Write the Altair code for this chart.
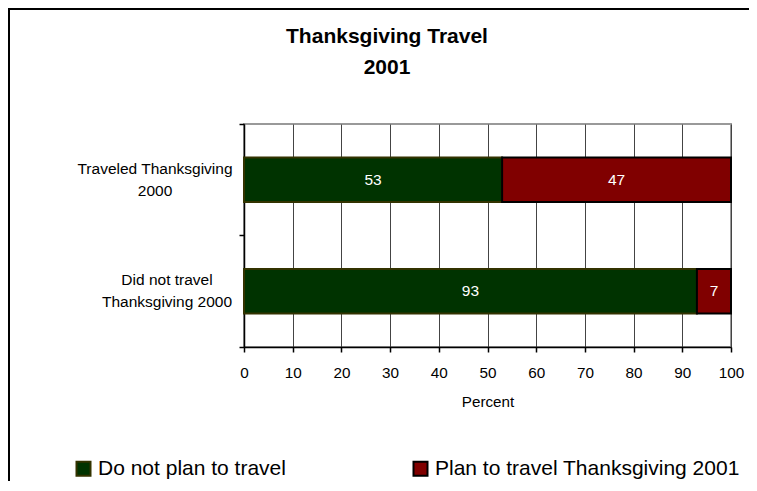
import altair as alt
import pandas as pd

categories = ["Traveled Thanksgiving\n2000", "Did not travel\nThanksgiving 2000"]
series = ["Do not plan to travel", "Plan to travel Thanksgiving 2001"]
do_not_plan = [53, 93]
plan_to_travel = [47, 7]
x_ticks = [0, 10, 20, 30, 40, 50, 60, 70, 80, 90, 100]
title_lines = ["Thanksgiving Travel", "2001"]

rows = []
for i, c in enumerate(categories):
    rows.append({"category": c, "series": series[0], "order": 0, "value": do_not_plan[i]})
    rows.append({"category": c, "series": series[1], "order": 1, "value": plan_to_travel[i]})
df = pd.DataFrame(rows)

FONT = "Liberation Sans"

legend = alt.Legend(
    title=None, orient="none", legendX=-171, legendY=334, direction="horizontal",
    symbolType="square", symbolSize=196, symbolStrokeWidth=2, symbolOpacity=1,
    labelFont=FONT, labelFontSize=21, labelColor="black", labelLimit=0,
    labelOffset=4, columnPadding=123, padding=0,
)

y_enc = alt.Y(
    "category:N", sort=categories, title=None,
    scale=alt.Scale(paddingInner=0, paddingOuter=0),
    axis=alt.Axis(
        bandPosition=1, tickExtra=True, grid=False,
        labelExpr="split(datum.label, '\\n')",
        labelAlign="center", labelBaseline="middle", labelLineHeight=22,
        labelOffset=-11,
        labelPadding={"condition": {"test": "indexof(datum.label, 'Traveled') == 0", "value": 84.5}, "value": 72.5},
        labelFont=FONT, labelFontSize=15.5, labelColor="black", labelLimit=0,
        domainColor="black", domainWidth=1.5, tickColor="black", tickSize=5, tickWidth=1.5,
    ),
)

base = alt.Chart(df).transform_stack(
    stack="value", as_=["v0", "v1"], groupby=["category"], sort=[alt.SortField("order")]
).transform_calculate(mid="(datum.v0 + datum.v1) / 2")

bars = base.mark_bar(height=alt.RelativeBandSize(0.4), strokeWidth=2).encode(
    x=alt.X(
        "v0:Q", title="Percent",
        scale=alt.Scale(domain=[0, 100], nice=False),
        axis=alt.Axis(
            values=x_ticks, grid=True, gridColor="#444", gridWidth=1, labelFlush=False,
            labelFont=FONT, labelFontSize=15.3, labelColor="black", labelPadding=13.5,
            domainColor="black", domainWidth=1.5, tickColor="black", tickSize=5, tickWidth=1.5,
            titleFont=FONT, titleFontSize=15.2, titleFontWeight="normal", titleColor="black",
            titleBaseline="top", titleY=47,
        ),
    ),
    x2="v1:Q",
    y=y_enc,
    fill=alt.Fill("series:N", scale=alt.Scale(domain=series, range=["#003300", "#800000"]), legend=legend),
    stroke=alt.Stroke("series:N", scale=alt.Scale(domain=series, range=["#333300", "#000000"]), legend=legend),
)

labels = base.mark_text(color="white", font=FONT, fontSize=15.5, baseline="middle").encode(
    x="mid:Q",
    y=alt.Y("category:N", sort=categories),
    text="value:Q",
)

title = alt.Chart(alt.Data(values=[{}])).mark_text(
    font=FONT, fontSize=21, fontWeight="bold", lineHeight=31, align="center", baseline="alphabetic", color="black"
).encode(x=alt.value(143), y=alt.value(-81), text=alt.value(title_lines))

frame = alt.Chart(alt.Data(values=[{}])).mark_rect(fill=None, stroke="black", strokeWidth=2).encode(
    x=alt.value(-235), x2=alt.value(900), y=alt.value(-115), y2=alt.value(900)
)

chart = alt.layer(frame, bars, labels, title).properties(
    width=487, height=223,
    padding={"left": 236, "top": 116, "right": 18, "bottom": 134},
    autosize=alt.AutoSizeParams(type="none"),
    background="white",
).configure_view(stroke="#999", strokeWidth=2)

chart.save("out.html", embed_options={"renderer": "svg", "actions": False})
